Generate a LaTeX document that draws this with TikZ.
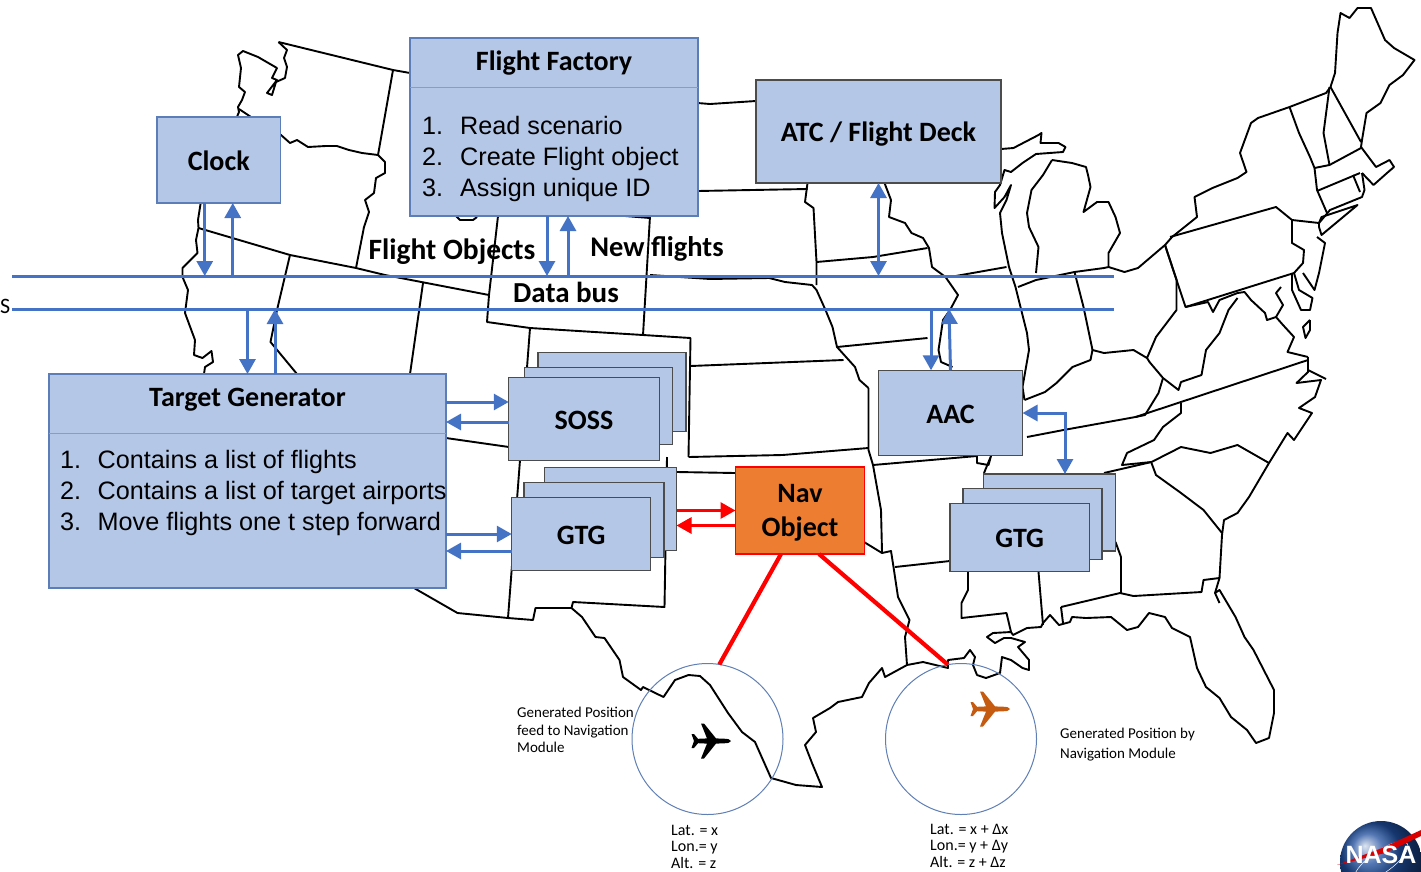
\documentclass[tikz,border=0pt]{standalone}
\usepackage{fontspec}
\setmainfont{Carlito}
\newfontfamily\listfont{Liberation Sans}
\usetikzlibrary{arrows.meta,shadings}
\definecolor{boxfill}{HTML}{B4C7E7}
\definecolor{boxedge}{HTML}{5B7DB8}
\definecolor{busblue}{HTML}{4472C4}
\definecolor{navfill}{HTML}{ED7D31}
\definecolor{planeorange}{HTML}{C55A11}
\definecolor{ringblue}{HTML}{5F7FB5}
\definecolor{nasablue}{HTML}{1F4E9E}
\tikzset{
	stateline/.style={black, line width=1.9pt, line join=round},
	box/.style={draw=boxedge, fill=boxfill, line width=1.3pt, inner sep=0pt, outer sep=0pt, align=center, text height=24pt, text depth=4pt, font=\bfseries\fontsize{28}{35}\selectfont},
	darkbox/.style={box, draw=black!70},
	navbox/.style={box, draw=red, fill=navfill},
	title/.style={font=\bfseries\fontsize{28}{34}\selectfont, inner sep=0pt, align=center},
	steps/.style={anchor=west, align=left, inner sep=0pt, font=\listfont\fontsize{25.2}{31}\selectfont},
	note/.style={anchor=north west, align=left, inner sep=0pt, font=\fontsize{15}{17.5}\selectfont},
	posnote/.style={note, font=\fontsize{16}{16.5}\selectfont},
	ring/.style={draw=ringblue, line width=1pt, circle, minimum size=151pt, inner sep=0pt, outer sep=0pt},
	divline/.style={draw=boxedge!75, line width=1pt},
	busline/.style={busblue, line width=3pt},
	flow/.style={busblue, line width=3pt, -{Triangle[length=15pt,width=16pt]}},
	flowboth/.style={busblue, line width=3pt, {Triangle[length=15pt,width=16pt]}-{Triangle[length=15pt,width=16pt]}},
	redflow/.style={red, line width=3pt, -{Triangle[length=15pt,width=16pt]}},
	redline/.style={red, line width=4.2pt},
	plane/.pic={
		\fill (20,0) .. controls (18,-2) .. (13,-2.3) -- (5,-2.6) -- (-7,-17.5) -- (-10,-17.5) -- (-4,-2.6)
			-- (-13,-2.2) -- (-17,-7) -- (-19.5,-7) -- (-17,0) -- (-19.5,7) -- (-17,7) -- (-13,2.2) -- (-4,2.6)
			-- (-10,17.5) -- (-7,17.5) -- (5,2.6) -- (13,2.3) .. controls (18,2) .. (20,0) -- cycle;
	}
}
\begin{document}
\begin{tikzpicture}[x=1pt, y=-1pt]
	\useasboundingbox (0,0) rectangle (1421,871);

	% the map
	\draw[stateline] (278.5,42) -- (393,70) -- (410,73);
	\draw[stateline] (393,70) -- (378,155);
	\draw[stateline] (278.5,42) -- (287,50) -- (284,58) -- (287,67) -- (285,78) -- (276,82) -- (272,95) -- (267,93) -- (277,80) -- (272,78) -- (277,68) -- (258,57) -- (243,51) -- (238,55) -- (241,68) -- (239,87) -- (245,92) -- (242,100) -- (238,107) -- (239,112) -- (200.5,204) -- (198,220) -- (198.5,228) -- (196,240) -- (197.5,253) -- (182.5,268) -- (182.5,277) -- (188,290) -- (185,313) -- (195,340) -- (194,355) -- (202.5,358) -- (211.5,351) -- (213,362) -- (205,367) -- (204,374);
	\draw[stateline] (239,109) -- (251,117) -- (281,135) -- (290,143) -- (297,140) -- (308,147) -- (326,146) -- (337,146) -- (349,150) -- (362,153) -- (378,155) -- (385,162) -- (385,173) -- (376,178) -- (374,193) -- (365,200) -- (369,212) -- (364,227) -- (356,268);
	\draw[stateline] (198.5,228) -- (290,255) -- (356,268) -- (385,275) -- (489,295);
	\draw[stateline] (498,216) -- (489,295) -- (487,322) -- (530,328) -- (643,335) -- (690.5,338) -- (688.5,457);
	\draw[stateline] (650,216) -- (645.5,293) -- (643,335);
	\draw[stateline] (456,216) -- (460,220) -- (473,220) -- (477,217);
	\draw[stateline] (625,216) -- (650,218);
	\draw[stateline] (530,328) -- (520,460) -- (508,618);
	\draw[stateline] (423,283) -- (410,374);
	\draw[stateline] (290,255) -- (277,310) -- (270.5,342) -- (297,374);
	\draw[stateline] (446,438) -- (509,447);
	\draw[stateline] (414,588) -- (457.5,613) -- (508,618) -- (533,620) -- (535.5,608) -- (571.5,608) -- (573,602) -- (664.5,607) -- (667,457);
	\draw[stateline] (571.5,608) -- (582,617) -- (595.5,637) -- (604.5,638) -- (619.5,660) -- (623,677) -- (641,690) -- (643,687) -- (663.5,697) -- (675,680) -- (688.5,675) -- (700,676) -- (710,685) -- (728,713) -- (742,732) -- (755,742) -- (771,778) -- (796,785) -- (822,787) -- (812,763) -- (805,745) -- (816,732) -- (813,718) -- (830,708) -- (838,702) -- (862,697) -- (869,683) -- (882,668) -- (885,677) -- (907,665) -- (923,662) -- (948,668) -- (948,660) -- (964,658) -- (970,650) -- (975,657) -- (973,665) -- (977,675) -- (986,678) -- (1000,673) -- (1002,657) -- (1011,660) -- (1022.5,668) -- (1029,670) -- (1029,660) -- (1018,647) -- (1025,642) -- (1011,638) -- (1004,638) -- (995,643) -- (987,637) -- (993,633) -- (1011,632) -- (1013,635) -- (1027,628) -- (1041,627) -- (1043,623) -- (1050,615) -- (1059,625) -- (1070,622) -- (1072,617) -- (1086,618) -- (1111,617) -- (1127,630) -- (1138,627) -- (1149,613) -- (1165,617) -- (1172,628) -- (1190,637) -- (1197,668) -- (1206,687) -- (1219.5,698) -- (1231,717) -- (1247,730) -- (1256,743) -- (1269,738) -- (1274,713) -- (1274,690) -- (1253.5,650) -- (1244.5,637) -- (1235.5,617) -- (1219.5,590) -- (1215,593) -- (1219.5,603);
	\draw[stateline] (1061,607) -- (1063,623);
	\draw[stateline] (1061,607) -- (1120,593) -- (1133.5,596) -- (1201.5,592) -- (1203.5,580) -- (1219.5,578) -- (1215,593);
	\draw[stateline] (1219.5,578) -- (1222,535) -- (1224,520) -- (1237.5,513) -- (1249,497) -- (1269,463) -- (1287.5,433) -- (1294,440) -- (1312,413) -- (1299,408) -- (1315,397) -- (1321,380) -- (1296.5,383) -- (1308,372) -- (1308,357);
	\draw[stateline] (1308,370) -- (1326,379);
	\draw[stateline] (1104,473) -- (1151.5,462) -- (1181,447) -- (1210.5,453) -- (1237.5,445) -- (1269,463);
	\draw[stateline] (1151.5,463) -- (1156,475) -- (1181,493) -- (1203.5,510) -- (1222,533);
	\draw[stateline] (1115.5,542) -- (1121,557) -- (1121,593);
	\draw[stateline] (1038.5,572) -- (1043,625);
	\draw[stateline] (968,572) -- (968,590) -- (961.5,603) -- (961.5,618) -- (1006.5,613) -- (1011,632);
	\draw[stateline] (895,567) -- (950,561);
	\draw[stateline] (864,542) -- (882,553) -- (891,551) -- (893.5,567) -- (898,597) -- (909.5,620) -- (905,637) -- (907,665);
	\draw[stateline] (868.5,388) -- (868.5,450) -- (873,465) -- (881,510) -- (882,552);
	\draw[stateline] (688.5,457) -- (782.5,455) -- (868.5,448);
	\draw[stateline] (677,472) -- (735,473);
	\draw[stateline] (690.5,366) -- (843.5,360);
	\draw[stateline] (650,275) -- (710,279) -- (769,278) -- (785,282) -- (812,285) -- (816.5,290) -- (825.5,310) -- (832.5,327) -- (837,347) -- (855,367) -- (859.5,380) -- (868.5,388);
	\draw[stateline] (816.5,262) -- (873,257) -- (927.5,248);
	\draw[stateline] (807.5,183) -- (805,202) -- (813.5,208) -- (816.5,262) -- (816.5,285);
	\draw[stateline] (697.5,191) -- (807.5,189);
	\draw[stateline] (697.5,103) -- (710,104) -- (756,101);
	\draw[stateline] (884.5,183) -- (891,200) -- (889,217) -- (905,223) -- (911.5,233) -- (923,238) -- (929,248) -- (932,267) -- (945.5,277) -- (958,295) -- (950,310) -- (943,320) -- (938.5,350) -- (941,362) -- (952.5,367);
	\draw[stateline] (837,347) -- (927.5,338);
	\draw[stateline] (950,277) -- (1006.5,267);
	\draw[stateline] (1001,149) -- (1013.5,148) -- (1025,142) -- (1038.5,135) -- (1041.5,133) -- (1040.5,143) -- (1058.5,143) -- (1065.5,147) -- (1063,152) -- (1036,154) -- (1022.5,163) -- (1011,172) -- (1004.5,170) -- (1000,185) -- (995,192) -- (994.5,208) -- (1004.5,197) -- (1011,185) -- (1006.5,200) -- (1000,213) -- (1002,233) -- (1009,267) -- (1015.5,287) -- (1027,333) -- (1029,350) -- (1022.5,387) -- (1024.5,400);
	\draw[stateline] (1052,160) -- (1072,163) -- (1086,167) -- (1088,175) -- (1090.5,187) -- (1083.5,212) -- (1097,202) -- (1108.5,202) -- (1115.5,217) -- (1120,233) -- (1108.5,253) -- (1108.5,267) -- (1104,268) -- (1074.5,272) -- (1036,280) -- (1018,287);
	\draw[stateline] (1052,160) -- (1043,175) -- (1031.5,190) -- (1027,213) -- (1029,227) -- (1038.5,247) -- (1036,273);
	\draw[stateline] (1074.5,272) -- (1083.5,307) -- (1092.5,350);
	\draw[stateline] (1024.5,400) -- (1045,392) -- (1056.5,383) -- (1072.5,367) -- (1090.5,360) -- (1092.5,350) -- (1104,353) -- (1133.5,350) -- (1147,358) -- (1156,337) -- (1176.5,310) -- (1176.5,280) -- (1165,245);
	\draw[stateline] (1108.5,267) -- (1124.5,272) -- (1138,268) -- (1165,245) -- (1172,237) -- (1197,217) -- (1194.5,197) -- (1212.5,188) -- (1237.5,178) -- (1246.5,172) -- (1240,153) -- (1251,123) -- (1258,118) -- (1289.5,107) -- (1326,93) -- (1330.5,87) -- (1335,73) -- (1337.5,33) -- (1340.5,13) -- (1349.5,18) -- (1357.5,8) -- (1371,8) -- (1385,40) -- (1394,48) -- (1414.5,60) -- (1403,75) -- (1389.5,85) -- (1380.5,103) -- (1366.5,113) -- (1362,140) -- (1361,147) -- (1376,167) -- (1389.5,160) -- (1394,167) -- (1387,173) -- (1373.5,185) -- (1362,173);
	\draw[stateline] (1170,237) -- (1276,207) -- (1292,220) -- (1319,223) -- (1321.5,217) -- (1357.5,205) -- (1321.5,235) -- (1319,227) -- (1319,223);
	\draw[stateline] (1319,223) -- (1330,210) -- (1362,197) -- (1364.5,190) -- (1362,173);
	\draw[stateline] (1317,191) -- (1360,173);
	\draw[stateline] (1353,175) -- (1360,192);
	\draw[stateline] (1314.5,168) -- (1329.5,165) -- (1361,148);
	\draw[stateline] (1289.5,107) -- (1299,133) -- (1310,157) -- (1314.5,168) -- (1317,190) -- (1327,213);
	\draw[stateline] (1329.5,87) -- (1323.5,133) -- (1329.5,165);
	\draw[stateline] (1330.5,87) -- (1361,142);
	\draw[stateline] (1165,245) -- (1185.5,307) -- (1294,273);
	\draw[stateline] (1292,220) -- (1292,243) -- (1304,250) -- (1303,263) -- (1294,273);
	\draw[stateline] (1317,237) -- (1325,243) -- (1319,273) -- (1314.5,290) -- (1303,273);
	\draw[stateline] (1294,273) -- (1299,290) -- (1312.5,298) -- (1310,310) -- (1301,310) -- (1292,290) -- (1292,273);
	\draw[stateline] (1281,287) -- (1276,293) -- (1283,305) -- (1276,317) -- (1283,325) -- (1294,337) -- (1287.5,352) -- (1308,357);
	\draw[stateline] (1310,320) -- (1310,330) -- (1305.5,338) -- (1303,327) -- (1310,320);
	\draw[stateline] (1185.5,307) -- (1208,302) -- (1213,312) -- (1219.5,300) -- (1237.5,293) -- (1244.5,292) -- (1251,300) -- (1265,313) -- (1267,320) -- (1276,317);
	\draw[stateline] (1237.5,298) -- (1228.5,310) -- (1219.5,333) -- (1206,350) -- (1201.5,375) -- (1181,382) -- (1178.5,390) -- (1163,378) -- (1149.5,362) -- (1147,358);
	\draw[stateline] (1027,437) -- (1063.5,430) -- (1135.5,417) -- (1308,360);
	\draw[stateline] (1163,378) -- (1158.5,393) -- (1145,415) -- (1135.5,417);
	\draw[stateline] (1181,403) -- (1181,413) -- (1163,427) -- (1154,440) -- (1127,453) -- (1122,465) -- (1151.5,462);
	\draw[stateline] (873,465) -- (977,456) -- (977,463) -- (988.5,465) -- (991,456) -- (984,473);

	% bus lines and circles
	\coordinate (busA) at (12,276);
	\coordinate (busAend) at (1114,276);
	\coordinate (busB) at (12,309);
	\coordinate (busBend) at (1114,309);
	\draw[busline] (busA) -- (busAend);
	\draw[busline] (busB) -- (busBend);
	\node[ring] (posfeed) at (707.5,739) {};
	\node[ring] (posnav) at (961,739) {};
	\pic[black] at (711,741) {plane};
	\pic[planeorange] at (990,709) {plane};

	% boxes
	\node[box, minimum width=123.5pt, minimum height=86pt] (clock) at (218.75,160) {Clock};
	\node[box, minimum width=288pt, minimum height=178pt] (factory) at (554,127) {};
	\node[darkbox, minimum width=245pt, minimum height=103pt] (atc) at (878.5,131.5) {ATC / Flight Deck};
	\node[box, minimum width=397pt, minimum height=214pt] (target) at (247.5,481) {};
	\node[darkbox, minimum width=148pt, minimum height=79.5pt] (sossc) at (612,392) {};
	\node[darkbox, minimum width=148pt, minimum height=76.5pt] (sossb) at (598.5,406) {};
	\node[darkbox, minimum width=150.5pt, minimum height=82.5pt] (sossa) at (584,419) {SOSS};
	\node[darkbox, minimum width=132pt, minimum height=82.5pt] (gtgc) at (610.5,509) {};
	\node[darkbox, minimum width=140pt, minimum height=74.5pt] (gtgb) at (594,520) {};
	\node[darkbox, minimum width=139pt, minimum height=73pt] (gtga) at (581.25,534) {GTG};
	\node[navbox, minimum width=129pt, minimum height=87pt] (nav) at (800,510.5) {};
	\node[darkbox, minimum width=144pt, minimum height=85.5pt] (aac) at (950.5,413) {AAC};
	\node[darkbox, minimum width=132pt, minimum height=77pt] (gtgf) at (1049.5,512.5) {};
	\node[darkbox, minimum width=139pt, minimum height=70.5pt] (gtge) at (1032.5,524) {};
	\node[darkbox, minimum width=139.5pt, minimum height=68pt] (gtgd) at (1019.75,537.5) {GTG};

	% box insides
	\node[title] (navtitle) at (800,513) {Nav\\Object};
	\node[title] (factorytitle) at (554,63) {Flight Factory};
	\coordinate (factorydiv) at (410,87);
	\draw[divline] (factorydiv) -- (factorydiv -| factory.east);
	\node[steps] (factorysteps) at (422,159) {\makebox[38pt][l]{1.}Read scenario\\\makebox[38pt][l]{2.}Create Flight object\\\makebox[38pt][l]{3.}Assign unique ID};
	\node[title] (targettitle) at (247.5,400) {Target Generator};
	\coordinate (targetdiv) at (49,433);
	\draw[divline] (targetdiv) -- (targetdiv -| target.east);
	\node[steps] (targetsteps) at (60,492.5) {\makebox[37.5pt][l]{1.}Contains a list of flights\\\makebox[37.5pt][l]{2.}Contains a list of target airports\\\makebox[37.5pt][l]{3.}Move flights one t step forward};

	% connectors
	\draw[flow] ([xshift=-14pt]clock.south) -- ([xshift=-14pt]clock.south |- busA);
	\draw[flow] ([xshift=14pt]clock.south |- busA) -- ([xshift=14pt]clock.south);
	\draw[flow] ([xshift=-7pt]factory.south) -- ([xshift=-7pt]factory.south |- busA);
	\draw[flow] ([xshift=14pt]factory.south |- busA) -- ([xshift=14pt]factory.south);
	\draw[flow] (target.north |- busB) -- (target.north);
	\draw[flow] ([xshift=27.5pt]target.north) -- ([xshift=27.5pt]target.north |- busB);
	\draw[flowboth] (atc.south) -- (atc.south |- busA);
	\draw[flow] ([xshift=-19.5pt]aac.north |- busB) -- ([xshift=-19.5pt]aac.north);
	\draw[flow] (aac.north) -- ([xshift=-1.5pt]aac.north |- busB);
	\draw[flow] ([yshift=17pt]sossa.west -| target.east) -- ([yshift=17pt]sossa.west);
	\draw[flow] ([yshift=-3pt]sossa.west) -- ([yshift=-3pt]sossa.west -| target.east);
	\draw[flow] (gtga.west -| target.east) -- (gtga.west);
	\draw[flow] ([yshift=-17pt]gtga.west) -- ([yshift=-17pt]gtga.west -| target.east);
	\draw[redflow] (gtgc.east |- nav.west) -- (nav.west);
	\draw[redflow] ([yshift=-15pt]nav.west) -- ([yshift=-15pt]nav.west -| gtgc.east);
	\draw[flowboth] (aac.east) -| ([xshift=15.5pt]gtgf.north);
	\draw[redline] ([xshift=-19pt]nav.south) -- (posfeed.81);
	\draw[redline] ([xshift=19pt]nav.south) -- (posnav.100);

	% free labels
	\node[title, font=\bfseries\fontsize{29.5}{34}\selectfont] (objects) at (452,252) {Flight Objects};
	\node[title, font=\bfseries\fontsize{28.5}{34}\selectfont] (newflights) at (657,249) {New flights};
	\node[title, font=\bfseries\fontsize{29}{34}\selectfont] (databus) at (566,292) {Data bus};
	\node[title, anchor=west, font=\fontsize{22}{24}\selectfont] (cutoff) at (0,306) {S};
	\node[note] (feednote) at (517,707) {Generated Position\\feed to Navigation\\Module};
	\node[note] (navnote) at (1060,728) {Generated Position by\\[2pt]Navigation Module};
	\node[posnote] (feedpos) at (671,825) {Lat. = x\\Lon.= y\\Alt. = z};
	\node[posnote] (navpos) at (930,824) {Lat. = x + Δx\\Lon.= y + Δy\\Alt. = z + Δz};

	% logo
	\node[circle, minimum size=82pt, ball color=nasablue, inner sep=0pt] (nasa) at (1381,862) {};
	\draw[white, line width=0.5pt, rotate around={35:(nasa.center)}] (nasa.center) ellipse (32 and 11);
	\fill[red!85!black] (1337,865) -- (1382,848) -- (1421,830) -- (1421,836) -- (1385,853) -- cycle;
	\node[inner sep=0pt, text=white, font=\listfont\bfseries\fontsize{25}{27}\selectfont] (nasaname) at (1381,855) {NASA};
\end{tikzpicture}
\end{document}
